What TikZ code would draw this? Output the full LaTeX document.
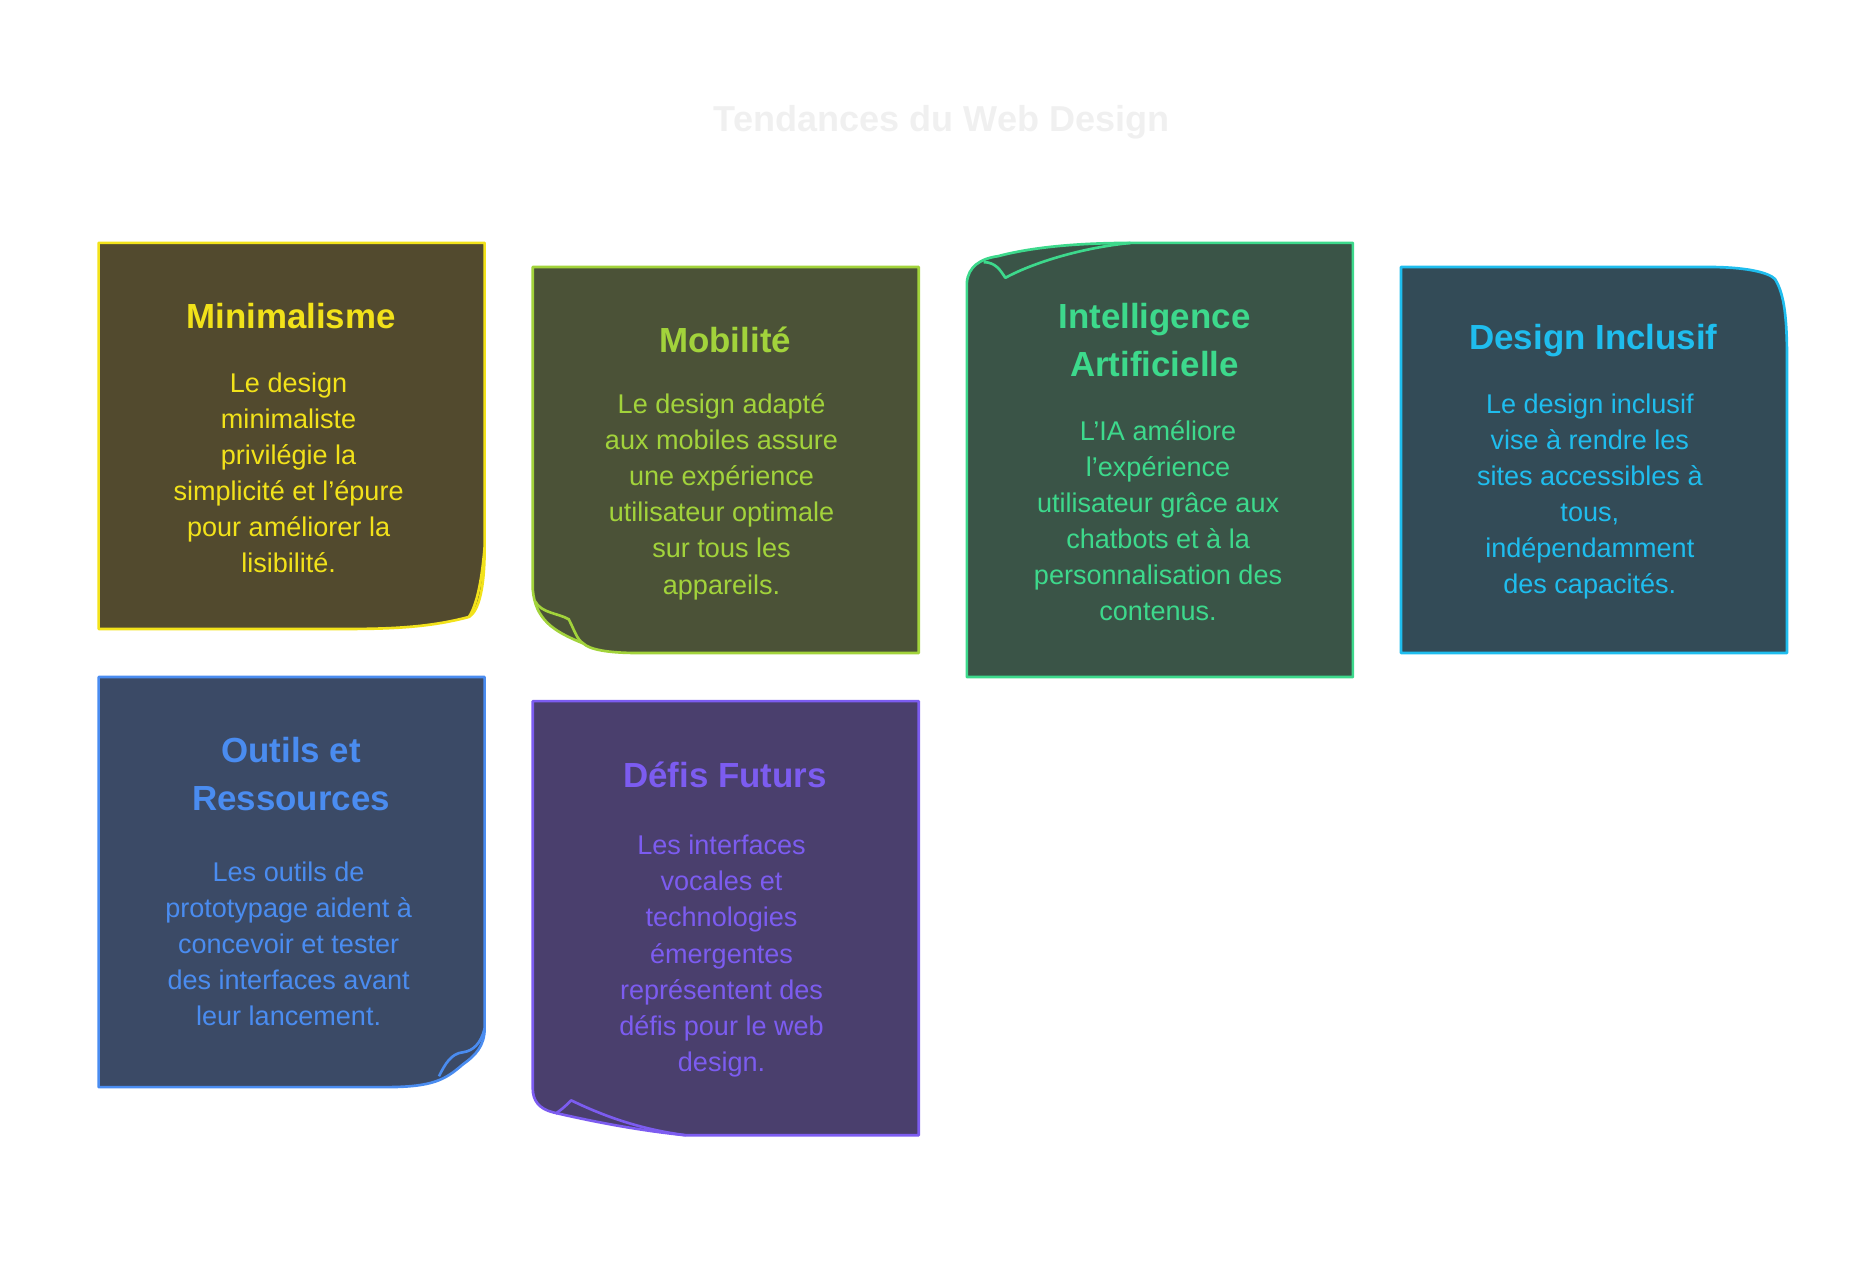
\documentclass[tikz,border=0pt]{standalone}
\usepackage{fontspec}
\setmainfont{Liberation Sans}
\begin{document}
\begin{tikzpicture}[x=1pt,y=-1pt,
  card/.style={line width=2.2pt,line join=round},
  ttl/.style={font=\fontsize{29}{40}\selectfont\bfseries,align=center},
  body/.style={font=\fontsize{22.5}{30}\selectfont,align=center}]
\useasboundingbox (0,0) rectangle (1560,1061);
\definecolor{cy}{HTML}{F2E21A}\definecolor{fy}{HTML}{524A2E}
\definecolor{cg}{HTML}{A2D33B}\definecolor{fg}{HTML}{4B5237}
\definecolor{ca}{HTML}{3DD98C}\definecolor{fa}{HTML}{3A5447}
\definecolor{cb}{HTML}{1FBDEE}\definecolor{fb}{HTML}{334B57}
\definecolor{co}{HTML}{4A8CF0}\definecolor{fo}{HTML}{3B4A66}
\definecolor{cv}{HTML}{7C5CF0}\definecolor{fv}{HTML}{4A3F6D}
\node[font=\fontsize{30}{36}\selectfont\bfseries,text=black!6] (title) at (783,102) {Tendances du Web Design};
% card 1
\draw[card,draw=cy,fill=fy] (82,202) -- (403,202) -- (403,455) .. controls (403,490) and (398,508) .. (390,513) .. controls (360,521) and (330,523) .. (290,523) -- (82,523) -- cycle;
\draw[card,draw=cy] (403,455) .. controls (400,490) and (395,505) .. (390,513);
\node[ttl,text=cy] (t1) at (242,263) {Minimalisme};
\node[body,text=cy] (b1) at (240,393) {Le design\\minimaliste\\privilégie la\\simplicité et l'épure\\pour améliorer la\\lisibilité.};
% card 2
\draw[card,draw=cg,fill=fg] (443,222) -- (764,222) -- (764,543) -- (530,543) .. controls (505,543) and (490,540) .. (485,535) .. controls (460,525) and (445,515) .. (443,490) -- cycle;
\draw[card,draw=cg] (445,500) .. controls (450,510) and (465,510) .. (473,515) .. controls (478,525) and (480,532) .. (485,535);
\node[ttl,text=cg] (t2) at (603,283) {Mobilité};
\node[body,text=cg] (b2) at (600,413) {Le design adapté\\aux mobiles assure\\une expérience\\utilisateur optimale\\sur tous les\\appareils.};
% card 3
\draw[card,draw=ca,fill=fa] (804,563) -- (804,235) .. controls (805,222) and (815,215) .. (830,213) .. controls (860,205) and (900,202) .. (940,202) -- (1125,202) -- (1125,563) -- cycle;
\draw[card,draw=ca] (818,218) .. controls (828,218) and (832,225) .. (836,231) .. controls (860,218) and (900,206) .. (940,202);
\node[ttl,text=ca] (t3) at (960,283) {Intelligence\\Artificielle};
\node[body,text=ca] (b3) at (963,433) {L'IA améliore\\l'expérience\\utilisateur grâce aux\\chatbots et à la\\personnalisation des\\contenus.};
% card 4
\draw[card,draw=cb,fill=fb] (1165,222) -- (1420,222) .. controls (1450,222) and (1470,226) .. (1476,232) .. controls (1484,245) and (1486,265) .. (1486,300) -- (1486,543) -- (1165,543) -- cycle;
\node[ttl,text=cb] (t4) at (1325,283) {Design Inclusif};
\node[body,text=cb] (b4) at (1322,413) {Le design inclusif\\vise à rendre les\\sites accessibles à\\tous,\\indépendamment\\des capacités.};
% card 5
\draw[card,draw=co,fill=fo] (82,563) -- (403,563) -- (403,855) .. controls (403,870) and (395,878) .. (385,885) .. controls (370,898) and (360,904) .. (320,904) -- (82,904) -- cycle;
\draw[card,draw=co] (365,895) .. controls (370,885) and (375,876) .. (385,875) .. controls (393,874) and (400,868) .. (403,855);
\node[ttl,text=co] (t5) at (242,644) {Outils et\\Ressources};
\node[body,text=co] (b5) at (240,785) {Les outils de\\prototypage aident à\\concevoir et tester\\des interfaces avant\\leur lancement.};
% card 6
\draw[card,draw=cv,fill=fv] (443,583) -- (764,583) -- (764,944) -- (570,944) .. controls (530,940) and (490,932) .. (460,925) .. controls (448,922) and (443,915) .. (443,905) -- cycle;
\draw[card,draw=cv] (462,926) .. controls (468,922) and (472,918) .. (475,915) .. controls (510,932) and (540,940) .. (570,944);
\node[ttl,text=cv] (t6) at (603,644) {Défis Futurs};
\node[body,text=cv] (b6) at (600,795) {Les interfaces\\vocales et\\technologies\\émergentes\\représentent des\\défis pour le web\\design.};
\end{tikzpicture}
\end{document}
